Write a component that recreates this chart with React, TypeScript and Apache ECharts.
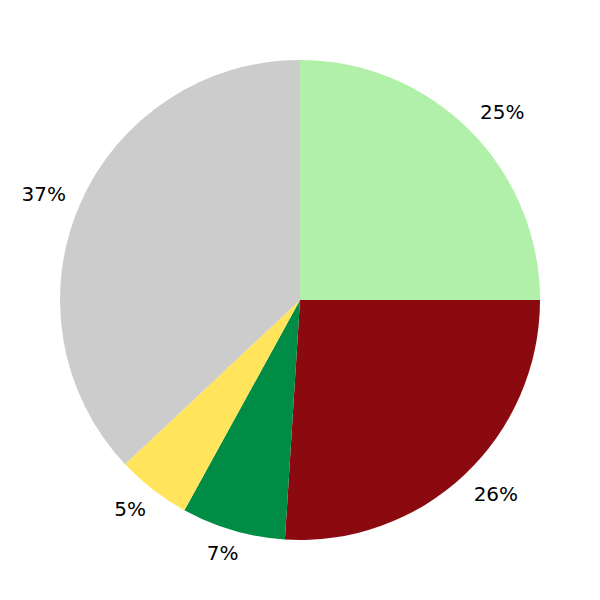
import React, { useEffect, useRef } from "react";
import * as echarts from "echarts";

const categories = ["A", "B", "C", "D", "E"];
const values = [25, 26, 7, 5, 37];
const colors = ["#b0f0a8", "#8b0a10", "#008c45", "#ffe45c", "#cccccc"];

const CX = 300;
const CY = 300;
const R = 240;
const LABEL_GAP = 15;
const GLYPH_HALF_H = 8;

const clamp1 = (v: number) => Math.max(-1, Math.min(1, v));

export default function App() {
  const ref = useRef<HTMLDivElement>(null);
  useEffect(() => {
    document.body.style.margin = "0";
    const chart = echarts.init(ref.current!, null, { renderer: "svg" });
    const data = categories.map((c, i) => ({
      name: c,
      value: values[i],
      itemStyle: { color: colors[i] },
    }));
    const total = values.reduce((a, b) => a + b, 0);
    chart.setOption({
      animation: false,
      backgroundColor: "#ffffff",
      series: [
        {
          type: "pie",
          center: [CX, CY],
          radius: [0, R],
          startAngle: 90,
          clockwise: true,
          silent: true,
          label: { show: false },
          labelLine: { show: false },
          data,
        },
        {
          type: "pie",
          center: [CX, CY],
          radius: [R + 12, R + 60],
          startAngle: 90,
          clockwise: true,
          silent: true,
          itemStyle: { color: "rgba(0,0,0,0)" },
          label: {
            show: true,
            position: "inside",
            formatter: (p: any) => Math.round((p.value / total) * 100) + "%",
            color: "#000000",
            fontSize: 20,
            fontFamily: "DejaVu Sans",
            rotate: 0,
          },
          labelLayout: (p: any) => {
            const r = p.labelRect;
            const mx = r.x + r.width / 2;
            const my = r.y + r.height / 2;
            const dx = mx - CX;
            const dy = my - CY;
            const len = Math.hypot(dx, dy) || 1;
            const s = dx / len;
            const c = dy / len;
            const ax = CX + s * (R + LABEL_GAP);
            const ay = CY + c * (R + LABEL_GAP);
            return {
              x: ax + (r.width / 2) * clamp1(1.4 * s),
              y: ay + GLYPH_HALF_H * clamp1(1.4 * c),
              align: "center",
              verticalAlign: "middle",
            };
          },
          labelLine: { show: false },
          data: categories.map((c, i) => ({ name: c, value: values[i] })),
        },
      ],
    });
    return () => chart.dispose();
  }, []);
  return <div ref={ref} style={{ width: 600, height: 600 }} />;
}
